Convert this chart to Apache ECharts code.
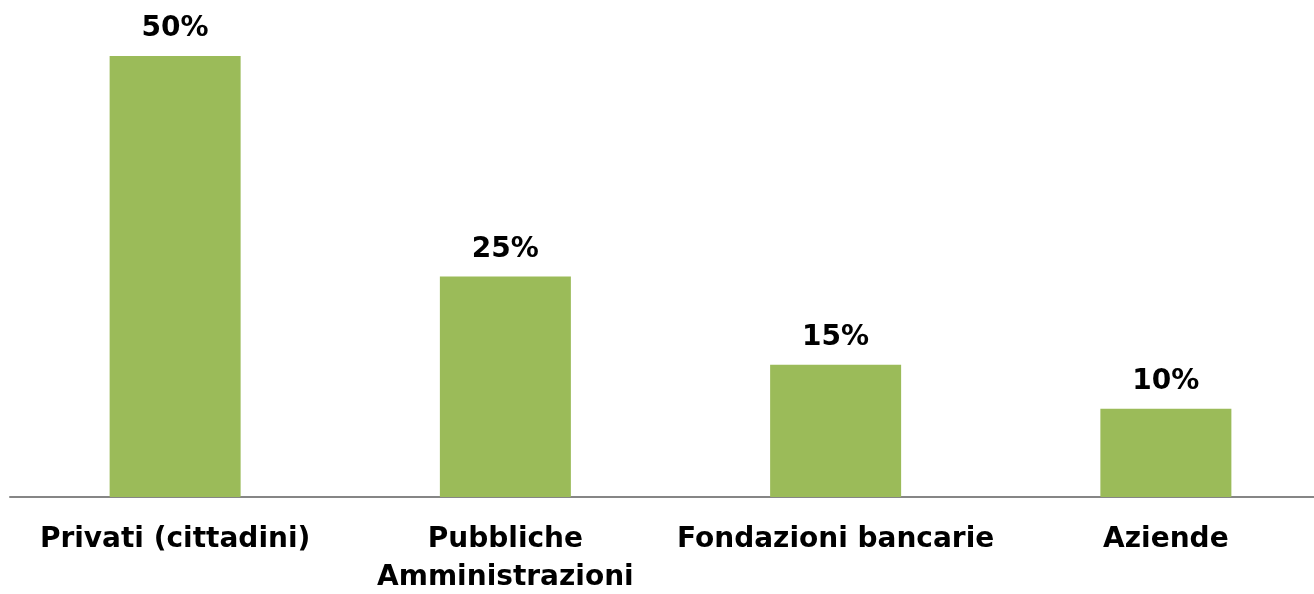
<!DOCTYPE html>
<html>
<head>
<meta charset="utf-8">
<script src="https://cdn.jsdelivr.net/npm/echarts@6/dist/echarts.min.js"></script>
<style>
  html, body { margin: 0; padding: 0; background: #fff; overflow: hidden; }
  #chart { width: 1314px; height: 594px; }
</style>
</head>
<body>
<div id="chart"></div>
<script>
// dati
var categories = ['Privati (cittadini)', 'Pubbliche\nAmministrazioni', 'Fondazioni bancarie', 'Aziende']
var values = [50, 25, 15, 10]

var myChart = echarts.init(document.getElementById('chart'))
var option = {
    animation: false,
    grid: { left: 10, width: 1321, top: 56, bottom: 97, outerBoundsMode: 'none', containLabel: false },
    xAxis: {
        type: 'category',
        data: categories,
        axisTick: { show: false },
        axisLine: { lineStyle: { color: '#868686', width: 2 } },
        axisLabel: {
            interval: 0,
            margin: 24,
            color: '#000',
            fontFamily: 'DejaVu Sans',
            fontWeight: 'bold',
            fontSize: 28,
            lineHeight: 38
        }
    },
    yAxis: {
        type: 'value',
        min: 0,
        max: 50,
        show: false,
        splitLine: { show: false }
    },
    series: [{
        type: 'bar',
        data: values,
        barWidth: 131,
        itemStyle: { color: '#9BBB59' },
        label: {
            show: true,
            position: 'top',
            distance: 13,
            formatter: '{c}%',
            color: '#000',
            fontFamily: 'DejaVu Sans',
            fontWeight: 'bold',
            fontSize: 28
        }
    }]
}
myChart.setOption(option)
</script>
</body>
</html>
